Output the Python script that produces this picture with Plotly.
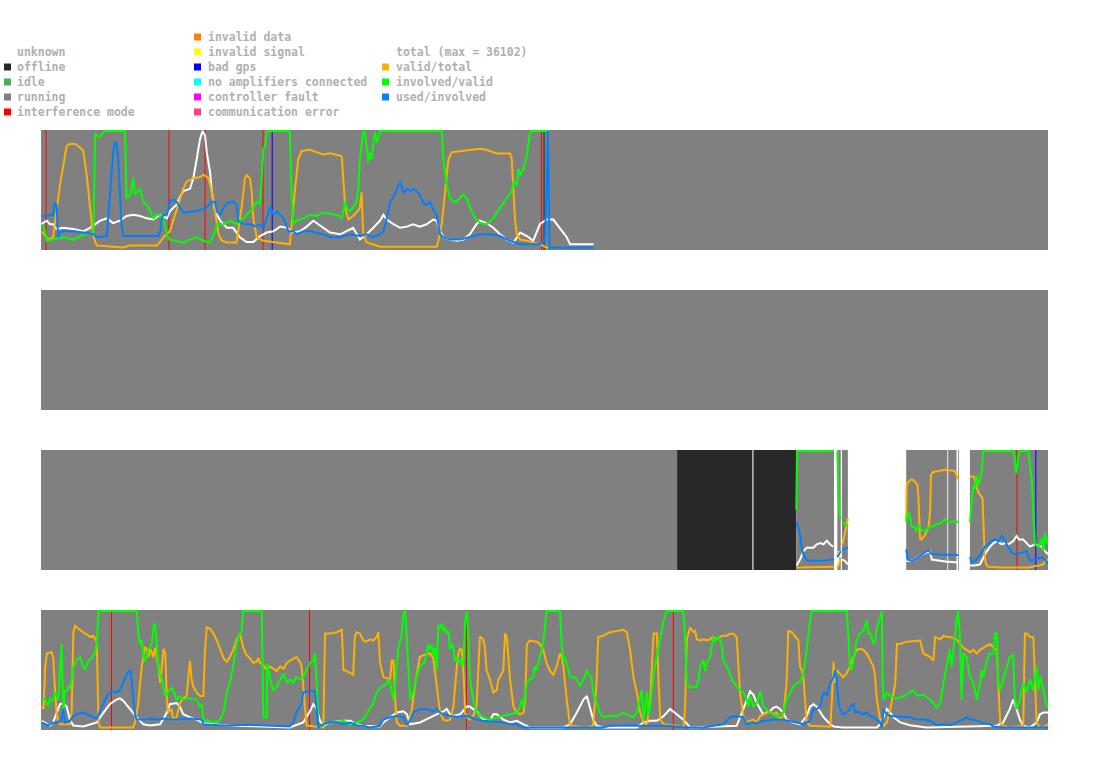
import plotly.graph_objects as go
from plotly.subplots import make_subplots

# ---------------- data ----------------
DAY_HOURS = 24
TOTAL_MAX = 36102

STATE_NAMES = ["unknown", "offline", "idle", "running", "interference mode"]
STATE_COLORS = ["#ffffff", "#282828", "#4caf50", "#808080", "#ff0000"]
ERROR_NAMES = ["invalid data", "invalid signal", "bad gps", "no amplifiers connected",
               "controller fault", "communication error"]
ERROR_COLORS = ["#ff8000", "#ffff00", "#0000ff", "#00ffff", "#ff00ff", "#ff4080"]
SERIES_NAMES = ["total (max = %d)" % TOTAL_MAX, "valid/total", "involved/valid", "used/involved"]
SERIES_COLORS = ["#ffffff", "#ffb000", "#00ff00", "#0080ff"]

# state segments per panel: (start hour, end hour, state)
p1_states = [(0.0, 24.0, "running")]
p2_states = [(0.0, 24.0, "running")]
p3_states = [(0.0, 15.16, "running"), (15.16, 16.955, "offline"), (16.98, 18.0, "offline"),
             (18.0, 18.90, "running"), (18.98, 19.06, "running"), (19.09, 19.23, "running"),
             (20.62, 21.60, "running"), (21.62, 21.82, "running"), (21.86, 21.88, "running"),
             (22.14, 24.0, "running")]
p4_states = [(0.0, 24.0, "running")]

# instantaneous events per panel: (hour, state)
p1_events = [(0.12, "interference mode"), (3.05, "interference mode"), (3.91, "interference mode"),
             (5.29, "interference mode"), (5.51, "bad gps"), (11.93, "interference mode"),
             (11.99, "offline")]
p2_events = []
p3_events = [(23.26, "interference mode"), (23.71, "bad gps")]
p4_events = [(1.68, "interference mode"), (6.40, "interference mode"),
             (10.14, "interference mode"), (15.07, "interference mode")]

# series values: (hour, percent)
p1_total = [(0.00,21),(0.06,22),(0.14,24),(0.21,21),(0.29,21),(0.37,17),(0.53,18),(0.77,17),(1.01,15),
    (1.17,18),(1.29,21),(1.41,24),(1.57,26),(1.72,22),(1.88,24),(2.04,28),(2.20,29),(2.36,28),(2.52,26),
    (2.68,25),(2.84,29),(3.00,26),(3.07,32),(3.23,37.5),(3.31,44),(3.39,49),(3.55,51),(3.63,60),(3.71,76),
    (3.79,93),(3.85,100),(3.91,96),(3.95,82),(4.03,65),(4.07,49),(4.15,32),(4.27,24),(4.43,18),(4.58,18),
    (4.74,10),(4.90,6),(5.06,6),(5.22,11),(5.38,14),(5.54,15),(5.70,19),(5.86,18),(6.01,14),(6.17,15),
    (6.33,19),(6.49,24),(6.65,20),(6.89,14),(7.13,12.5),(7.29,15),(7.44,18),(7.60,8),(7.76,12.5),(7.92,18),
    (8.08,24),(8.16,29),(8.24,25),(8.40,21),(8.56,18),(8.72,19),(8.87,21),(9.03,19),(9.19,21),(9.35,25),
    (9.43,24),(9.51,15),(9.59,10),(9.75,8),(9.91,7),(10.07,8),(10.22,12.5),(10.38,21),(10.46,24),(10.62,22),
    (10.78,18),(10.94,12.5),(11.10,8),(11.26,5.6),(11.42,14),(11.58,11),(11.73,7),(11.89,21),(12.05,25),
    (12.21,25),(12.37,18),(12.53,10),(12.61,4),(13.17,4)]
p1_valid = [(0.02,15),(0.17,8),(0.29,10),(0.45,54),(0.61,87),(0.69,89),(0.81,89),(0.93,86),(1.01,83),
    (1.09,62.5),(1.17,35),(1.25,10),(1.33,3),(1.96,1.4),(2.12,3),(2.76,3),(2.84,6),(2.92,10),(3.07,15),
    (3.15,24),(3.23,35),(3.31,43),(3.39,51),(3.47,57),(3.63,60),(3.79,61),(3.87,63),(3.99,60),(4.07,49),
    (4.15,32),(4.23,12.5),(4.31,7),(4.43,5.6),(4.66,5.6),(4.78,35),(4.86,60),(4.90,62.5),(4.98,60),(5.02,49),
    (5.06,26),(5.14,10),(5.30,7),(5.93,4),(6.05,49),(6.13,76),(6.21,83),(6.41,84),(6.57,82),(6.73,80),
    (6.89,81),(7.13,79),(7.17,78),(7.21,54),(7.25,35),(7.29,29),(7.33,25),(7.36,26),(7.44,28),(7.52,31),
    (7.60,35),(7.64,48),(7.68,12.5),(7.76,5.6),(7.92,4),(8.08,2),(9.43,2),(9.47,7),(9.55,21),(9.63,49),
    (9.71,76),(9.79,82),(9.99,83),(10.22,84),(10.46,85),(10.62,84),(10.86,81),(11.18,81),(11.22,76),
    (11.26,49),(11.30,24),(11.34,12.5),(11.42,8),(11.58,7),(11.73,5.6),(11.89,4),(12.05,1.4),(12.10,1.4)]
p1_involved = [(0.02,21),(0.06,20),(0.14,7),(0.29,8),(0.53,10),(0.77,8),(1.01,12),(1.17,13),(1.25,15),
    (1.29,98),(1.33,96),(1.41,95),(1.49,99),(1.57,100),(2.00,100),(2.04,43),(2.12,46),(2.16,51),(2.20,60),
    (2.24,46),(2.32,49),(2.36,51),(2.44,40),(2.52,37.5),(2.60,32),(2.68,26),(2.76,29),(2.84,29),(2.92,24),
    (3.00,12.5),(3.07,8),(3.23,7),(3.39,5.6),(3.55,8),(3.71,10),(3.87,7),(4.03,5.6),(4.15,15),(4.19,21),
    (4.35,21),(4.50,24),(4.66,21),(4.82,26),(4.98,32),(5.06,35),(5.14,40),(5.22,37.5),(5.30,85),(5.34,87.5),
    (5.38,99),(5.42,100),(5.93,100),(5.97,49),(6.01,21),(6.09,24),(6.25,26),(6.41,29),(6.57,28),(6.73,31),
    (6.89,30),(7.13,28),(7.17,26),(7.21,35),(7.25,40),(7.29,35),(7.36,32),(7.44,35),(7.52,40),(7.56,49),
    (7.60,76),(7.64,87.5),(7.68,99),(7.72,100),(7.76,87.5),(7.80,73.6),(7.84,82),(7.88,76),(7.92,90),
    (7.96,99),(8.00,90),(8.04,94),(8.08,100),(9.55,100),(9.59,76),(9.67,54),(9.75,43),(9.83,40),(9.91,40),
    (9.99,44),(10.07,46),(10.14,43),(10.30,29),(10.46,22),(10.62,21),(10.78,26),(10.94,35),(11.10,43),
    (11.22,49),(11.26,57),(11.34,54),(11.38,68),(11.42,62.5),(11.50,68),(11.58,79),(11.62,90),(11.66,99),
    (11.70,100),(12.10,100)]
p1_used = [(0.02,28),(0.29,29),(0.33,39),(0.37,37.5),(0.41,10),(0.45,14),(0.53,15),(0.77,15),(1.01,14),
    (1.25,12.5),(1.33,10),(1.57,11),(1.60,26),(1.64,49),(1.68,62.5),(1.72,82),(1.76,90),(1.80,90),(1.84,76),
    (1.88,49),(1.92,21),(1.96,11),(2.80,11),(2.84,15),(2.88,26),(2.92,29),(3.00,29),(3.07,40),(3.15,42),
    (3.23,40),(3.31,36),(3.39,31),(3.47,31),(3.63,32),(3.79,33),(3.95,35),(4.07,40),(4.15,40),(4.19,32),
    (4.27,29),(4.35,35),(4.43,39),(4.58,40),(4.66,37.5),(4.70,24),(4.82,21),(4.98,21),(5.14,19),(5.22,21),
    (5.30,18),(5.38,26),(5.46,36),(5.54,29),(5.62,32),(5.78,26),(5.90,15),(6.01,15),(6.09,12.5),(6.25,15),
    (6.41,15),(6.57,14),(6.73,12.5),(6.89,10),(7.13,10),(7.36,12.5),(7.60,11),(7.76,12.5),(7.92,10),
    (8.08,12.5),(8.16,15),(8.24,26),(8.32,40),(8.40,44),(8.48,50),(8.56,57),(8.64,47),(8.72,51),(8.80,49),
    (8.87,51),(8.95,49),(9.03,46),(9.11,39),(9.19,37.5),(9.27,40),(9.35,33),(9.43,29),(9.51,12.5),(9.59,10),
    (9.75,8),(9.99,8),(10.22,10),(10.46,12.5),(10.70,12.5),(10.94,11),(11.18,7),(11.42,4),(11.66,4),
    (11.89,4),(12.01,7),(12.05,49),(12.08,100),(12.12,1),(13.17,1)]

# panel 3: separate data segments
p3_total = [
    [(18.01,3),(18.09,8),(18.17,15),(18.25,18),(18.41,18),(18.49,21),(18.57,22),(18.65,21),(18.73,24),
     (18.80,21),(18.88,19)],
    [(18.98,3),(19.02,15),(19.06,10)],
    [(19.09,8),(19.16,7),(19.23,4)],
    [(20.62,7),(20.71,7),(20.83,8),(20.99,12.5),(21.10,14),(21.19,15),(21.23,8),(21.39,7),(21.55,6.4),
     (21.86,5.6)],
    [(22.14,3),(22.26,3),(22.38,4),(22.46,10),(22.54,15),(22.62,19),(22.70,22),(22.78,23.6),(22.90,21),
     (22.98,22),(23.06,21),(23.17,23.6),(23.25,28),(23.31,25),(23.41,25),(23.49,22),(23.57,19),(23.69,21),
     (23.85,19),(23.93,15),(24.0,12.5)]]
p3_valid = [
    [(18.00,1.4),(18.89,1.9)],
    [(18.98,1),(19.03,5),(19.06,10)],
    [(19.09,20),(19.16,30),(19.23,43)],
    [(20.62,40),(20.63,72),(20.71,75),(20.75,76),(20.83,74),(20.89,71),(20.91,62.5),(20.93,48.6),
     (20.95,26),(20.99,25),(21.07,29),(21.15,35),(21.19,48.6),(21.21,79),(21.25,82),(21.39,83),(21.55,84),
     (21.78,83),(21.82,79),(21.86,76)],
    [(22.14,78),(22.18,78.6),(22.24,78),(22.26,74),(22.30,69),(22.34,65),(22.40,62.5),(22.44,60),
     (22.46,40),(22.49,12.5),(22.52,4),(22.58,2),(22.90,1.4),(23.53,1.4),(23.77,3),(23.89,4),(23.93,7),
     (24.0,8)]]
p3_involved = [
    [(18.00,50),(18.02,100),(18.89,100)],
    [(18.98,100),(19.01,60),(19.04,44),(19.06,42)],
    [(19.09,40),(19.16,38),(19.23,36)],
    [(20.62,40),(20.66,48.6),(20.71,44),(20.75,36),(20.83,35),(20.87,32),(20.91,37.5),(20.99,33),
     (21.07,32),(21.15,35),(21.23,36),(21.31,37.5),(21.46,39),(21.55,42.5),(21.62,40),(21.86,40)],
    [(22.14,40),(22.18,55.6),(22.22,71),(22.26,68),(22.30,79),(22.34,71),(22.38,76),(22.42,82),(22.44,93),
     (22.46,100),(23.17,100),(23.21,93),(23.24,80.6),(23.28,93),(23.31,100),(23.53,100),(23.57,90),
     (23.61,76),(23.65,48.6),(23.68,26),(23.69,21),(23.77,19),(23.85,26),(23.89,15),(23.93,30.6),
     (23.97,23.6),(24.0,21)]]
p3_used = [
    [(18.00,40),(18.05,35),(18.09,29),(18.13,18),(18.17,12.5),(18.25,7.5),(18.41,7),(18.65,7),(18.89,8)],
    [(18.98,10),(19.06,15)],
    [(19.09,16),(19.23,18)],
    [(20.62,16.7),(20.66,8),(20.75,7),(20.83,8),(20.91,10),(20.99,12.5),(21.07,14),(21.15,16),(21.23,12.5),
     (21.39,12.5),(21.55,12.5),(21.78,12.5),(21.86,12)],
    [(22.14,10),(22.18,5.6),(22.26,7),(22.34,10),(22.42,14),(22.46,16.7),(22.50,19),(22.58,21),(22.66,23.6),
     (22.74,25),(22.82,23),(22.90,28),(22.98,23.6),(23.06,18),(23.14,14),(23.21,12.5),(23.37,14),(23.49,15),
     (23.57,7),(23.69,8),(23.85,10),(23.93,8),(24.0,4)]]

p4_total = [(0.02,7),(0.14,4),(0.21,3),(0.29,5.6),(0.37,14),(0.45,21),(0.53,22),(0.61,19),(0.69,8),(0.77,3),
    (1.01,2.2),(1.33,5.6),(1.49,14),(1.64,21),(1.80,25),(1.88,26),(1.96,24),(2.12,17),(2.28,10),(2.44,4),
    (2.60,3),(2.84,4),(3.00,14),(3.07,21),(3.23,22),(3.31,19),(3.39,12.5),(3.55,10),(3.71,8),(3.87,5),
    (4.19,4),(4.50,2.8),(5.30,2.2),(5.93,1.4),(6.25,5.6),(6.41,15),(6.49,21),(6.57,17),(6.65,7),(6.73,2.8),
    (6.89,5.6),(7.21,7),(7.37,7),(7.52,4),(7.68,2.8),(8.08,2.2),(8.16,5.6),(8.32,10),(8.48,14),(8.64,15),
    (8.72,12.5),(8.80,4),(9.03,5.6),(9.43,12.5),(9.59,15),(9.67,17),(9.75,12.5),(9.83,11),(9.99,12.5),
    (10.15,19),(10.22,19),(10.38,15),(10.46,11),(10.54,8),(10.70,7),(10.78,12.5),(10.86,12.5),(11.02,8),
    (11.18,5.6),(11.34,7),(11.50,4),(11.65,1.4),(12.45,1.4),(12.61,4),(12.77,14),(12.93,25),(13.01,28),
    (13.08,19),(13.16,8),(13.24,2.8),(13.40,1.4),(14.20,1.4),(14.36,5.6),(14.52,7),(14.68,7),(14.84,11),
    (14.99,17),(15.15,12.5),(15.31,8),(15.47,1.4),(16.58,2.8),(16.74,17),(16.90,32),(16.98,29),(17.06,22),
    (17.14,17),(17.21,12.5),(17.29,14),(17.37,15),(17.45,18),(17.53,19),(17.61,17),(17.69,14),(17.77,8),
    (17.93,5.6),(18.09,4),(18.25,11),(18.33,19),(18.41,21),(18.49,19),(18.57,14),(18.65,10),(18.73,7),
    (18.81,4),(18.89,2.2),(19.12,1.4),(19.92,1.4),(20.00,4),(20.16,17),(20.24,14),(20.32,10),(20.48,5.6),
    (20.71,3.3),(21.11,1.4),(22.78,2.8),(22.93,5.6),(23.09,17),(23.17,25),(23.25,17),(23.33,8),(23.41,2.8),
    (23.57,1.4),(23.73,5.6),(23.81,12.5),(23.89,14),(24.0,14)]
p4_valid = [(0.02,19),(0.06,17),(0.10,53),(0.14,64),(0.25,65),(0.29,61),(0.33,36),(0.37,14),(0.41,6),
    (0.45,4),(0.69,4),(0.73,14),(0.77,81),(0.81,88),(0.85,86),(1.01,82),(1.17,78),(1.25,79),(1.29,76),
    (1.33,74),(1.37,5.6),(1.41,1.4),(2.20,1.4),(2.24,5.6),(2.32,22),(2.40,53),(2.48,69),(2.52,68),(2.56,61),
    (2.60,68),(2.68,61),(2.72,69),(2.80,53),(2.84,39),(2.92,68),(2.96,64),(3.00,25),(3.03,14),(3.11,17),
    (3.15,8),(3.23,10),(3.31,22),(3.39,26),(3.47,28),(3.55,58),(3.59,42),(3.63,36),(3.71,31),(3.79,28),
    (3.87,28),(3.91,67),(3.95,86),(4.03,85),(4.11,81),(4.19,75),(4.27,67),(4.35,60),(4.43,57),(4.50,61),
    (4.58,67),(4.66,75),(4.74,81),(4.82,69),(4.90,62.5),(4.98,60),(5.06,56),(5.14,57),(5.18,60),(5.22,56),
    (5.30,54),(5.38,50),(5.46,53),(5.54,51),(5.62,49),(5.70,53),(5.78,51),(5.86,56),(5.93,58),(6.09,61),
    (6.17,57),(6.21,53),(6.29,20),(6.33,3),(6.73,1.4),(6.74,25),(6.77,81),(6.89,81),(7.05,82),(7.17,84),
    (7.21,50),(7.29,49),(7.37,47),(7.44,46),(7.48,78),(7.52,82),(7.60,81),(7.68,75),(7.76,74),(7.84,76),
    (7.92,75),(8.00,78),(8.04,82),(8.08,56),(8.16,44),(8.32,42),(8.36,58),(8.40,58),(8.44,25),(8.48,5.6),
    (8.56,2.8),(8.72,2.8),(8.76,5.6),(8.84,17),(8.92,39),(9.00,56),(9.03,61),(9.11,62.5),(9.27,64),(9.35,60),
    (9.43,36),(9.51,14),(9.59,8),(9.67,7),(9.75,8),(9.83,19),(9.91,53),(9.95,64),(9.99,68),(10.03,67),
    (10.07,47),(10.11,14),(10.15,10),(10.22,8),(10.30,11),(10.38,19),(10.46,78),(10.54,76),(10.58,69),
    (10.62,50),(10.70,42),(10.78,31),(10.86,33),(10.90,42),(10.94,44),(11.02,50),(11.06,81),(11.10,78),
    (11.18,42),(11.26,19),(11.34,14),(11.42,12.5),(11.50,14),(11.54,25),(11.58,72),(11.65,75),(11.81,74),
    (11.89,72),(11.97,67),(12.05,56),(12.13,49),(12.21,46),(12.29,53),(12.37,64),(12.41,61),(12.45,53),
    (12.53,25),(12.61,2.8),(13.01,1.4),(13.16,2.8),(13.24,39),(13.28,78),(13.40,79),(13.56,82),(13.72,83),
    (13.88,84),(13.96,82),(14.04,67),(14.12,44),(14.20,31),(14.28,14),(14.36,5.6),(14.44,2.8),(14.52,25),
    (14.60,81),(14.68,81),(14.72,39),(14.76,8),(14.84,4),(15.15,2.8),(15.31,1.4),(15.35,17),(15.39,76),
    (15.47,86),(15.55,82),(15.59,83),(15.63,76),(15.71,75),(15.79,76),(15.87,75),(15.94,76),(16.02,78),
    (16.10,76),(16.18,78),(16.26,79),(16.34,79),(16.42,80.6),(16.50,80.6),(16.58,78),(16.62,53),(16.66,31),
    (16.74,11),(16.82,5.6),(16.90,7),(16.98,8),(17.06,5.6),(17.14,11),(17.21,12.5),(17.29,14),(17.37,15),
    (17.45,12.5),(17.53,14),(17.61,8),(17.69,11),(17.77,39),(17.81,83),(17.89,82),(17.97,78),(18.05,75),
    (18.09,53),(18.13,50),(18.17,44),(18.21,25),(18.25,5.6),(18.33,2.8),(18.81,1.9),(18.85,25),(18.89,57),
    (18.93,39),(18.96,50),(19.04,47),(19.12,44),(19.20,47),(19.28,53),(19.36,61),(19.44,67),(19.52,68),
    (19.60,67),(19.68,64),(19.76,58),(19.84,53),(19.88,44),(19.92,25),(20.00,8),(20.08,2.8),(20.16,5.6),
    (20.24,17),(20.32,31),(20.36,39),(20.40,72),(20.48,72),(20.63,74),(20.87,75),(20.95,75),(21.03,64),
    (21.19,61),(21.27,58),(21.31,78),(21.43,76),(21.51,79),(21.59,78),(21.66,78),(21.82,76),(21.90,72),
    (21.98,69),(22.06,67),(22.14,65),(22.22,67),(22.30,64),(22.38,67),(22.46,69),(22.62,72),(22.70,69),
    (22.78,67),(22.82,39),(22.86,5.6),(22.93,2.8),(23.09,1.4),(23.41,2.8),(23.45,81),(23.49,81),(23.57,78),
    (23.65,78),(23.69,39),(23.73,5.6),(23.81,1.4),(23.89,1.4),(23.97,3.3),(24.0,4)]
p4_involved = [(0.02,26),(0.10,25),(0.17,19),(0.21,26),(0.25,24),(0.29,25),(0.33,31),(0.41,25),(0.49,72),
    (0.53,14),(0.57,33),(0.61,32),(0.65,36),(0.69,35),(0.73,42),(0.77,53),(0.85,58),(0.93,61),(1.01,53),
    (1.05,50),(1.13,58),(1.21,60),(1.29,65),(1.33,72),(1.37,100),(2.28,100),(2.32,81),(2.36,72),(2.40,75),
    (2.44,62.5),(2.48,57),(2.56,67),(2.64,72),(2.68,86),(2.72,90),(2.76,72),(2.80,50),(2.88,42),(2.96,28),
    (3.03,31),(3.11,35),(3.15,33),(3.23,25),(3.31,28),(3.39,25),(3.55,26),(3.71,25),(3.79,19),(3.83,21),
    (3.87,8),(3.95,7),(4.11,5.6),(4.19,6),(4.27,8),(4.35,14),(4.43,31),(4.50,39),(4.58,53),(4.66,72),
    (4.74,81),(4.78,83),(4.82,100),(5.26,100),(5.30,10),(5.38,10),(5.39,56),(5.46,42),(5.54,33),(5.62,36),
    (5.70,42),(5.78,47),(5.86,39),(5.93,42),(6.01,39),(6.09,44),(6.17,42),(6.25,44),(6.33,50),(6.41,56),
    (6.49,58),(6.53,64),(6.57,39),(6.61,1.4),(6.73,4),(6.89,5.6),(7.05,6),(7.21,7),(7.37,4),(7.52,5.6),
    (7.68,8),(7.84,17),(7.92,22),(8.00,31),(8.08,35),(8.24,38),(8.28,42),(8.32,39),(8.40,25),(8.44,39),
    (8.52,69),(8.60,81),(8.64,99),(8.68,100),(8.72,75),(8.76,50),(8.80,25),(8.87,31),(8.95,44),(9.03,53),
    (9.15,57),(9.23,72),(9.27,67),(9.31,71),(9.35,62.5),(9.39,69),(9.43,50),(9.47,88),(9.51,86),(9.55,89),
    (9.59,83),(9.63,86),(9.67,81),(9.71,83),(9.75,67),(9.79,72),(9.83,69),(9.87,57),(9.91,61),(9.95,57),
    (9.99,58),(10.03,53),(10.07,58),(10.11,92),(10.15,100),(10.18,81),(10.22,44),(10.30,25),(10.38,14),
    (10.54,10),(10.70,8),(10.86,10),(11.02,11),(11.18,12.5),(11.34,14),(11.42,19),(11.46,25),(11.50,19),
    (11.54,31),(11.58,39),(11.65,42),(11.73,44),(11.77,53),(11.81,50),(11.89,61),(11.97,72),(12.01,86),
    (12.05,100),(12.37,100),(12.41,72),(12.45,58),(12.49,61),(12.61,44),(12.69,44),(12.77,42),(12.85,36),
    (12.93,42),(13.01,50),(13.04,47),(13.12,44),(13.16,31),(13.24,22),(13.32,14),(13.40,10),(13.56,11),
    (13.72,11),(13.88,14),(14.04,11),(14.12,10),(14.20,14),(14.28,25),(14.32,33),(14.36,8),(14.44,31),
    (14.48,11),(14.52,19),(14.60,47),(14.68,61),(14.76,75),(14.84,92),(14.91,100),(15.31,100),(15.35,78),
    (15.39,39),(15.47,35),(15.63,36),(15.67,42),(15.71,53),(15.79,58),(15.83,49),(15.87,56),(15.95,61),
    (16.02,78),(16.06,74),(16.14,78),(16.18,76),(16.22,72),(16.26,58),(16.34,53),(16.42,47),(16.50,40),
    (16.58,36),(16.66,33),(16.74,31),(16.82,25),(16.86,19),(16.90,28),(16.98,19),(17.06,22),(17.14,32),
    (17.18,26),(17.21,19),(17.29,17),(17.37,14),(17.45,12.5),(17.53,10),(17.61,12.5),(17.69,14),(17.77,25),
    (17.85,31),(17.93,36),(18.01,39),(18.09,40),(18.17,47),(18.25,67),(18.33,92),(18.37,100),(19.20,100),
    (19.24,81),(19.28,53),(19.32,50),(19.36,58),(19.44,75),(19.52,81),(19.60,83),(19.68,92),(19.72,81),
    (19.76,81),(19.84,72),(19.88,75),(19.92,86),(20.00,94),(20.04,100),(20.06,39),(20.08,25),(20.16,31),
    (20.24,28),(20.40,26),(20.56,28),(20.71,31),(20.79,33),(20.87,28),(21.03,29),(21.19,25),(21.27,22),
    (21.35,18),(21.43,22),(21.51,39),(21.59,53),(21.66,67),(21.70,53),(21.74,64),(21.82,92),(21.86,100),
    (21.90,78),(21.94,25),(21.98,64),(22.06,61),(22.14,44),(22.22,39),(22.30,25),(22.38,39),(22.42,50),
    (22.46,44),(22.54,58),(22.62,64),(22.70,64),(22.74,81),(22.78,81),(22.82,39),(22.86,33),(22.93,42),
    (23.01,50),(23.09,61),(23.17,62.5),(23.21,25),(23.25,17),(23.33,25),(23.41,39),(23.49,31),(23.57,42),
    (23.65,33),(23.73,53),(23.77,33),(23.81,44),(23.89,33),(23.97,19),(24.0,19)]
p4_used = [(0.02,5.6),(0.10,4),(0.17,3),(0.29,5.6),(0.37,5),(0.49,8),(0.53,17),(0.57,5.6),(0.69,7),
    (0.77,11),(0.85,12.5),(1.01,14),(1.09,12.5),(1.17,11),(1.25,10),(1.33,9),(1.41,15),(1.49,22),(1.57,28),
    (1.64,31),(1.72,32),(1.80,31),(1.88,33),(1.96,39),(2.04,46),(2.12,50),(2.16,42),(2.20,25),(2.24,12.5),
    (2.28,8),(2.44,8),(2.60,9),(2.76,8),(2.92,9),(3.07,8),(3.23,8),(3.55,9),(3.83,8),(3.87,4),(4.03,3.6),
    (4.50,2.8),(4.90,3.6),(5.30,3.3),(5.62,2.5),(5.93,2.2),(6.01,5.6),(6.09,14),(6.17,19),(6.21,22),
    (6.25,31),(6.33,32),(6.53,32),(6.57,19),(6.61,1.4),(6.73,4),(6.89,6),(7.05,5.6),(7.21,4),(7.37,5.6),
    (7.52,3.3),(7.68,2.8),(7.84,1.4),(8.08,2.8),(8.16,8),(8.32,10),(8.48,11),(8.64,10),(8.72,4),(8.80,7),
    (8.87,14),(9.03,17),(9.19,17),(9.35,15),(9.43,17),(9.51,14),(9.59,12.5),(9.75,11),(9.91,10.5),
    (10.15,11),(10.22,10),(10.38,8),(10.54,7),(10.86,6),(11.02,5.6),(11.18,4),(11.34,4),(11.50,1.4),
    (13.40,1.4),(13.56,2.8),(13.80,3.3),(14.04,3.3),(14.20,2.8),(14.99,2.8),(15.31,1.4),(15.79,1.4),
    (16.02,2.8),(16.26,4),(16.42,10),(16.58,11),(16.74,10),(16.82,4),(16.90,5.6),(17.06,5),(17.21,7),
    (17.53,8),(17.69,7.8),(17.85,7),(18.01,5.6),(18.17,4),(18.33,7),(18.41,17),(18.49,17),(18.57,19),
    (18.65,31),(18.73,29),(18.81,39),(18.89,44),(18.93,50),(18.96,42),(19.00,25),(19.04,17),(19.12,12.5),
    (19.20,14),(19.28,17),(19.36,22),(19.40,14),(19.44,15),(19.52,14),(19.60,12.5),(19.68,14),(19.76,11),
    (19.84,10),(19.92,8),(20.00,5.6),(20.04,1.4),(20.08,17),(20.12,14),(20.16,12.5),(20.24,11),(20.40,10.5),
    (20.56,10.5),(20.71,10),(20.87,8),(21.03,8),(21.19,7),(21.35,3.3),(21.51,4),(21.66,3.3),(21.82,5.6),
    (21.98,8),(22.06,10),(22.14,8),(22.22,8),(22.30,7),(22.38,5.6),(22.46,5),(22.62,4),(22.70,2.2),
    (22.86,1.4),(24.0,1.4)]

# ---------------- layout constants ----------------
FIG_W, FIG_H = 1095, 764
M_L, M_R, M_T, M_B = 41, 47, 130, 34
PLOT_W = FIG_W - M_L - M_R
PLOT_H = FIG_H - M_T - M_B
LEGEND_FONT = dict(family="DejaVu Sans Mono", size=11.5, color="#b0b0b0", weight="bold")


def flatten(segments):
    xs, ys = [], []
    for k, seg in enumerate(segments):
        if k:
            xs.append(None)
            ys.append(None)
        for t, v in seg:
            xs.append(t)
            ys.append(v)
    return xs, ys


color_of = dict(zip(STATE_NAMES + ERROR_NAMES, STATE_COLORS + ERROR_COLORS))

panels = [
    (p1_states, p1_events, [[p1_total], [p1_valid], [p1_involved], [p1_used]]),
    (p2_states, p2_events, [[], [], [], []]),
    (p3_states, p3_events, [p3_total, p3_valid, p3_involved, p3_used]),
    (p4_states, p4_events, [[p4_total], [p4_valid], [p4_involved], [p4_used]]),
]

fig = make_subplots(rows=4, cols=1, vertical_spacing=40 / PLOT_H)

for i, (states, events, series) in enumerate(panels, start=1):
    xr = "x" if i == 1 else "x%d" % i
    yd = "y domain" if i == 1 else "y%d domain" % i
    for a, b, s in states:
        fig.add_shape(type="rect", xref=xr, yref=yd, x0=a, x1=b, y0=0, y1=1,
                      fillcolor=color_of[s], line_width=0, layer="below")
    for t, s in events:
        fig.add_shape(type="line", xref=xr, yref=yd, x0=t, x1=t, y0=0, y1=1,
                      line=dict(color=color_of[s], width=1), layer="below")
    for name, color, segs in zip(SERIES_NAMES, SERIES_COLORS, series):
        xs, ys = flatten(segs)
        if xs:
            fig.add_trace(go.Scatter(x=xs, y=ys, mode="lines", name=name,
                                     line=dict(color=color, width=2),
                                     showlegend=False, hoverinfo="skip",
                                     connectgaps=False), row=i, col=1)

fig.update_xaxes(range=[0, DAY_HOURS], visible=False, showgrid=False, zeroline=False, fixedrange=True)
fig.update_yaxes(range=[-0.8, 100.8], visible=False, showgrid=False, zeroline=False, fixedrange=True)


# ---------------- legend (three columns) ----------------
def px_x(px):
    return (px - M_L) / PLOT_W


def px_y(py):
    return (M_T + PLOT_H - py) / PLOT_H


ROW_STEP = 15
SQ = 7
legend_cols = [
    (4, 17, 52, STATE_NAMES, STATE_COLORS),
    (194, 208, 37, ERROR_NAMES, ERROR_COLORS),
    (382, 396, 52, SERIES_NAMES, SERIES_COLORS),
]
for sq_x, txt_x, y_first, names, colors in legend_cols:
    for k, (n, c) in enumerate(zip(names, colors)):
        cy = y_first + k * ROW_STEP
        fig.add_shape(type="rect", xref="paper", yref="paper",
                      x0=px_x(sq_x), x1=px_x(sq_x + SQ), y0=px_y(cy + SQ / 2), y1=px_y(cy - SQ / 2),
                      fillcolor=c, line_width=0)
        fig.add_annotation(xref="paper", yref="paper", x=px_x(txt_x - 2), y=px_y(cy),
                           text=n, showarrow=False, xanchor="left", yanchor="middle",
                           font=LEGEND_FONT)

fig.update_layout(width=FIG_W, height=FIG_H,
                  margin=dict(l=M_L, r=M_R, t=M_T, b=M_B, pad=0),
                  paper_bgcolor="#ffffff", plot_bgcolor="#ffffff",
                  showlegend=False)

fig.write_html("out.html")
